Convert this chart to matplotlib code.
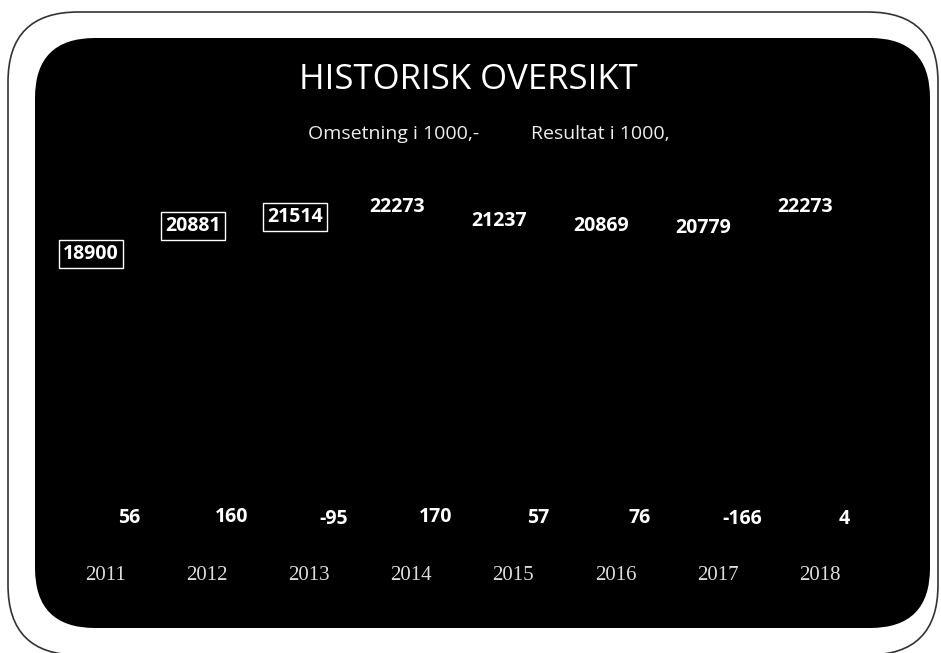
import numpy as np
import matplotlib.pyplot as plt
from matplotlib.patches import FancyBboxPatch, Patch

years = ['2011', '2012', '2013', '2014', '2015', '2016', '2017', '2018']
omsetning = [18900, 20881, 21514, 22273, 21237, 20869, 20779, 22273]
resultat = [56, 160, -95, 170, 57, 76, -166, 4]
series_names = ['Omsetning i 1000,-', 'Resultat i 1000,']
title = 'HISTORISK OVERSIKT'

fig = plt.figure(figsize=(9.41, 6.53), dpi=100, facecolor='white')

# background panel drawn in pixel coordinates
bg = fig.add_axes([0, 0, 1, 1])
bg.set_xlim(0, 941)
bg.set_ylim(653, 0)
bg.axis('off')
bg.add_patch(FancyBboxPatch((8, 12), 930, 643, boxstyle='round,pad=0,rounding_size=70',
                            fc='white', ec='#333333', lw=1.2))
bg.add_patch(FancyBboxPatch((35, 38), 895, 590, boxstyle='round,pad=0,rounding_size=60',
                            fc='black', ec='none'))

ax = fig.add_axes([40 / 941, (653 - 527) / 653, 880 / 941, 337 / 653])
ax.set_facecolor('none')
x = np.arange(len(years))
w = 0.3
b1 = ax.bar(x - 0.14, omsetning, w, color='black')
b2 = ax.bar(x + 0.24, resultat, w, color='black')

for i, (rect, v) in enumerate(zip(b1, omsetning)):
    bbox = dict(fc='none', ec='white', lw=1, pad=3) if i < 3 else None
    ax.annotate(str(v), (rect.get_x() + rect.get_width() / 2, v), xytext=(0, 1),
                textcoords='offset points', ha='center', va='baseline',
                color='white', fontsize=14, fontweight='bold', family='Open Sans', bbox=bbox)

for rect, v in zip(b2, resultat):
    ax.annotate(str(v), (rect.get_x() + rect.get_width() / 2, max(v, 0)), xytext=(0, 2),
                textcoords='offset points', ha='center', va='baseline',
                color='white', fontsize=14, fontweight='bold', family='Open Sans')

ax.set_xlim((40 - 105) / 102.1, (920 - 105) / 102.1)
ax.set_ylim(0, 23900)
ax.set_xticks(x)
ax.set_xticklabels(years, family='Liberation Serif', fontsize=15, color='#dddddd')
ax.tick_params(axis='x', length=0, pad=28)
ax.set_yticks([])
for s in ax.spines.values():
    s.set_visible(False)

fig.text(468 / 941, 1 - 80 / 653, title, ha='center', va='center',
         color='white', fontsize=25, family='Open Sans')

handles = [Patch(color='black'), Patch(color='black')]
leg = fig.legend(handles, series_names, loc='center', bbox_to_anchor=(477 / 941, 1 - 134 / 653),
                 ncol=2, frameon=False, handlelength=0.7, handletextpad=0.5,
                 columnspacing=1.5, prop={'family': 'Open Sans', 'size': 14})
for t in leg.get_texts():
    t.set_color('#eeeeee')

plt.savefig('out.png', dpi=100, facecolor='white')
